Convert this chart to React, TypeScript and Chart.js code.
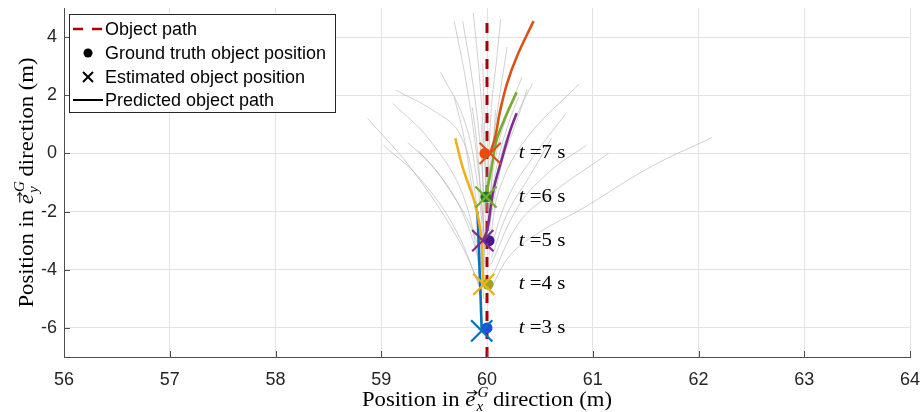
import React, { useEffect, useRef } from 'react';
import { Chart, registerables } from 'chart.js';

Chart.register(...registerables);

const SANS = '"Liberation Sans", Arial, Helvetica, sans-serif';
const SERIF = '"Liberation Serif", "Times New Roman", serif';

// Axes
const xMin = 56;
const xMax = 64;
const yMin = -7;
const yMax = 5;
const xTickValues = [56, 57, 58, 59, 60, 61, 62, 63, 64];
const yTickValues = [-6, -4, -2, 0, 2, 4];

// Object path (true straight-line motion)
const objectPathX = [60, 60];
const objectPathY = [-7, 4.5];

// Time steps, ground truth and estimates
const times = [3, 4, 5, 6, 7];
const truthX = [60.0, 60.01, 60.02, 59.99, 59.98];
const truthY = [-6.0, -4.5, -3.0, -1.5, 0.0];
const estimateX = [59.95, 59.97, 59.96, 59.99, 60.03];
const estimateY = [-6.1, -4.5, -3.0, -1.5, 0.0];
const timeLabelX = 60.3;

// Predicted path from each estimate
const predX3 = [59.95, 59.94, 59.93, 59.92, 59.91];
const predY3 = [-6.1, -5.0, -4.0, -3.0, -2.0];
const predX4 = [59.97, 59.96, 59.95, 59.91, 59.87, 59.77, 59.7];
const predY4 = [-4.5, -4.0, -3.0, -2.07, -1.52, -0.48, 0.52];
const predX5 = [59.96, 60.0, 60.06, 60.14, 60.22, 60.28];
const predY5 = [-3.0, -2.66, -1.28, -0.2, 0.79, 1.38];
const predX6 = [59.99, 60.05, 60.09, 60.18, 60.28];
const predY6 = [-1.5, -0.34, 0.45, 1.3, 2.1];
const predX7 = [60.03, 60.08, 60.12, 60.19, 60.28, 60.44];
const predY7 = [0.0, 0.6, 1.4, 2.41, 3.31, 4.55];
const predictedX = [predX3, predX4, predX5, predX6, predX7];
const predictedY = [predY3, predY4, predY5, predY6, predY7];

// Sampled candidate paths (light grey fan)
const sampleTracks: number[][][] = [
  [[59.94, -4.6], [59.72, -2.9], [59.3, -0.6], [58.87, 1.21]],
  [[59.96, -4.2], [59.88, -1.2], [59.74, 0.69], [59.49, 1.48], [59.14, 2.17]],
  [[59.95, -4.4], [59.78, -1.5], [59.46, 0.45], [59.11, 1.72]],
  [[59.95, -4.8], [59.7, -2.6], [59.35, -0.8], [59.02, 0.28]],
  [[59.96, -4.0], [59.75, -1.9], [59.5, -0.5], [59.25, 0.38]],
  [[59.98, -3.5], [59.9, -0.8], [59.78, 1.2], [59.56, 2.8]],
  [[59.98, -3.0], [59.9, 0.0], [59.8, 2.5], [59.69, 4.55]],
  [[59.99, -2.5], [59.93, 0.5], [59.85, 2.8], [59.77, 4.55]],
  [[60.0, -2.0], [59.96, 1.0], [59.92, 3.0], [59.87, 4.83]],
  [[59.97, -3.8], [59.85, -1.0], [59.78, 0.6], [59.69, 1.93]],
  [[59.98, -3.2], [59.93, -0.8], [59.9, 0.5], [59.86, 1.59]],
  [[60.0, -1.8], [59.98, 0.5], [59.96, 3.1]],
  [[60.0, -1.5], [60.04, 1.5], [60.09, 3.2], [60.13, 4.62]],
  [[60.0, -1.2], [60.08, 1.0], [60.19, 3.66]],
  [[60.0, -2.0], [60.1, 0.2], [60.2, 1.4], [60.33, 2.62]],
  [[60.02, -2.3], [60.14, 0.0], [60.28, 1.3], [60.43, 2.41]],
  [[60.01, -2.0], [60.12, 0.0], [60.22, 1.2], [60.3, 1.95]],
  [[60.02, -2.5], [60.15, -0.2], [60.26, 0.9], [60.38, 2.2]],
  [[60.03, -3.0], [60.12, -1.2], [60.38, 0.55], [60.87, 2.38]],
  [[60.03, -3.3], [60.2, -1.5], [60.42, -0.2], [60.74, 1.34]],
  [[60.04, -3.6], [60.2, -2.0], [60.4, -0.8], [60.61, 0.52]],
  [[60.04, -3.8], [60.3, -1.8], [60.6, -0.6], [60.94, 0.28]],
  [[60.04, -4.3], [60.3, -2.4], [60.6, -1.4], [61.15, 0.0]],
  [[60.03, -4.7], [60.22, -3.5], [60.5, -2.7], [60.9, -1.9], [61.54, -0.48], [62.13, 0.55]],
  [[59.97, -5.0], [59.9, -3.0], [59.6, -1.0], [59.35, 0.1]],
  [[59.98, -4.0], [59.96, -1.0], [59.95, 1.0]],
  [[60.02, -3.5], [60.05, -0.5], [60.08, 1.5]],
];

const objectColor = '#A80000';
const stepColors = ['#0072BD', '#EDB120', '#7E2F8E', '#77AC30', '#D95319'];
const truthColors = ['#1F4FE0', '#9AA51E', '#4B1A8A', '#1E7A1E', '#F04A0A'];
const greyTrack = 'rgba(170,170,170,0.55)';
const axisColor = '#4d4d4d';
const textColor = '#262626';

const toPoints = (xs: number[], ys: number[]) => xs.map((x, i) => ({ x, y: ys[i] }));

function drawAxisTitle(ctx: CanvasRenderingContext2D, cx: number, cy: number, sub: string, rotate: boolean) {
  const fs = 21;
  const fsS = 14;
  const stretch = 1.08;
  ctx.save();
  ctx.translate(cx, cy);
  if (rotate) ctx.rotate(-Math.PI / 2);
  ctx.scale(stretch, 1);
  ctx.font = `${fs}px ${SERIF}`;
  const w1 = ctx.measureText('Position in ').width;
  ctx.font = `italic ${fs}px ${SERIF}`;
  const we = ctx.measureText('e').width;
  ctx.font = `italic ${fsS}px ${SERIF}`;
  const wss = Math.max(ctx.measureText(sub).width, ctx.measureText('G').width) + 1;
  ctx.font = `${fs}px ${SERIF}`;
  const w3 = ctx.measureText(' direction (m)').width;
  const total = w1 + we + wss + w3;
  let x = -total / 2;
  ctx.fillStyle = '#000';
  ctx.strokeStyle = '#000';
  ctx.textAlign = 'left';
  ctx.textBaseline = 'alphabetic';
  ctx.fillText('Position in ', x, 0);
  x += w1;
  ctx.font = `italic ${fs}px ${SERIF}`;
  ctx.fillText('e', x, 0);
  const ay = -fs * 0.63;
  ctx.lineWidth = 1;
  ctx.beginPath();
  ctx.moveTo(x + 1.5, ay);
  ctx.lineTo(x + we + 1.5, ay);
  ctx.moveTo(x + we - 1.5, ay - 2.5);
  ctx.lineTo(x + we + 1.5, ay);
  ctx.lineTo(x + we - 1.5, ay + 2.5);
  ctx.stroke();
  x += we;
  ctx.font = `italic ${fsS}px ${SERIF}`;
  ctx.fillText(sub, x + 1, 5);
  ctx.fillText('G', x + 2, -9);
  x += wss;
  ctx.font = `${fs}px ${SERIF}`;
  ctx.fillText(' direction (m)', x, 0);
  ctx.restore();
}

function drawTimeLabel(ctx: CanvasRenderingContext2D, x: number, y: number, t: number) {
  const fs = 19;
  ctx.save();
  ctx.translate(x, y);
  ctx.scale(1.1, 1);
  ctx.fillStyle = '#000';
  ctx.textAlign = 'left';
  ctx.textBaseline = 'middle';
  ctx.font = `italic ${fs}px ${SERIF}`;
  ctx.fillText('t', 0, 0);
  const wt = ctx.measureText('t').width;
  ctx.font = `${fs}px ${SERIF}`;
  ctx.fillText(` =${t} s`, wt, 0);
  ctx.restore();
}

function drawLegend(ctx: CanvasRenderingContext2D) {
  const L = 69, T = 14, R = 335, B = 112;
  const rows = [29, 53, 77, 100];
  ctx.save();
  ctx.fillStyle = '#fff';
  ctx.fillRect(L, T, R - L, B - T);
  ctx.strokeStyle = textColor;
  ctx.lineWidth = 1;
  ctx.strokeRect(L + 0.5, T + 0.5, R - L, B - T);

  ctx.strokeStyle = objectColor;
  ctx.lineWidth = 2.5;
  ctx.setLineDash([10, 9]);
  ctx.beginPath();
  ctx.moveTo(73, rows[0]);
  ctx.lineTo(103, rows[0]);
  ctx.stroke();
  ctx.setLineDash([]);

  ctx.fillStyle = '#000';
  ctx.beginPath();
  ctx.arc(88, rows[1], 4.5, 0, Math.PI * 2);
  ctx.fill();

  ctx.strokeStyle = '#000';
  ctx.lineWidth = 2;
  ctx.beginPath();
  ctx.moveTo(83, rows[2] - 5);
  ctx.lineTo(93, rows[2] + 5);
  ctx.moveTo(93, rows[2] - 5);
  ctx.lineTo(83, rows[2] + 5);
  ctx.stroke();

  ctx.lineWidth = 2;
  ctx.beginPath();
  ctx.moveTo(73, rows[3]);
  ctx.lineTo(103, rows[3]);
  ctx.stroke();

  ctx.fillStyle = '#000';
  ctx.font = `18px ${SANS}`;
  ctx.textAlign = 'left';
  ctx.textBaseline = 'middle';
  const labels = ['Object path', 'Ground truth object position', 'Estimated object position', 'Predicted object path'];
  labels.forEach((s, i) => ctx.fillText(s, 105, rows[i] + 1));
  ctx.restore();
}

const overlayPlugin = {
  id: 'overlay',
  afterDraw(chart: any) {
    const { ctx, scales } = chart;
    const xs = scales.x;
    const ys = scales.y;
    const left = xs.getPixelForValue(xMin);
    const right = xs.getPixelForValue(xMax);
    const top = ys.getPixelForValue(yMax);
    const bottom = ys.getPixelForValue(yMin);
    ctx.save();
    ctx.strokeStyle = axisColor;
    ctx.lineWidth = 1;
    xTickValues.forEach((v) => {
      const px = Math.round(xs.getPixelForValue(v)) + 0.5;
      ctx.beginPath();
      ctx.moveTo(px, bottom);
      ctx.lineTo(px, bottom - 6);
      ctx.stroke();
    });
    yTickValues.forEach((v) => {
      const py = Math.round(ys.getPixelForValue(v)) + 0.5;
      ctx.beginPath();
      ctx.moveTo(left, py);
      ctx.lineTo(left + 6, py);
      ctx.stroke();
    });
    ctx.restore();

    times.forEach((t, i) => {
      drawTimeLabel(ctx, xs.getPixelForValue(timeLabelX), ys.getPixelForValue(truthY[i]), t);
    });

    drawAxisTitle(ctx, (left + right) / 2, 406, 'x', false);
    drawAxisTitle(ctx, 33, (top + bottom) / 2, 'y', true);
    drawLegend(ctx);
  },
};

export default function App() {
  const canvasRef = useRef<HTMLCanvasElement | null>(null);

  useEffect(() => {
    const canvas = canvasRef.current;
    if (!canvas) return;

    const datasets: any[] = [];

    datasets.push({
      label: 'Object path',
      data: toPoints(objectPathX, objectPathY),
      showLine: true,
      borderColor: objectColor,
      borderWidth: 3,
      borderDash: [10, 8],
      pointRadius: 0,
      order: 20,
    });

    sampleTracks.forEach((track, k) => {
      datasets.push({
        label: `sample ${k}`,
        data: track.map(([x, y]) => ({ x, y })),
        showLine: true,
        borderColor: greyTrack,
        borderWidth: 1,
        tension: 0.4,
        pointRadius: 0,
        order: 15,
      });
    });

    times.forEach((t, i) => {
      datasets.push({
        label: `Predicted t=${t}`,
        data: toPoints(predictedX[i], predictedY[i]),
        showLine: true,
        borderColor: stepColors[i],
        borderWidth: 2.6,
        tension: 0.4,
        pointRadius: 0,
        order: 10 - i,
      });
    });

    times.forEach((t, i) => {
      datasets.push({
        label: `Truth t=${t}`,
        data: [{ x: truthX[i], y: truthY[i] }],
        showLine: false,
        pointStyle: 'circle',
        pointRadius: 5.5,
        backgroundColor: truthColors[i],
        borderColor: truthColors[i],
        borderWidth: 0,
        order: 4,
      });
      datasets.push({
        label: `Estimate t=${t}`,
        data: [{ x: estimateX[i], y: estimateY[i] }],
        showLine: false,
        pointStyle: 'crossRot',
        pointRadius: 15,
        borderColor: stepColors[i],
        borderWidth: 2.2,
        order: 2,
      });
    });

    const chart = new Chart(canvas, {
      type: 'scatter',
      data: { datasets },
      options: {
        animation: false,
        responsive: false,
        maintainAspectRatio: false,
        events: [],
        layout: { autoPadding: false, padding: { top: 8, right: 12, left: 0, bottom: 0 } },
        plugins: { legend: { display: false }, tooltip: { enabled: false } },
        scales: {
          x: {
            type: 'linear',
            min: xMin,
            max: xMax,
            afterBuildTicks: (s: any) => {
              s.ticks = xTickValues.map((v) => ({ value: v }));
            },
            afterFit: (s: any) => {
              s.height = 55;
              s.paddingLeft = 0;
              s.paddingRight = 0;
              s.paddingTop = 0;
              s.paddingBottom = 0;
            },
            grid: { color: '#e3e3e3', lineWidth: 1, drawTicks: false },
            border: { color: axisColor, width: 1 },
            ticks: {
              font: { family: SANS, size: 18 },
              color: textColor,
              padding: 12,
              maxRotation: 0,
              autoSkip: false,
            },
          },
          y: {
            type: 'linear',
            min: yMin,
            max: yMax,
            afterBuildTicks: (s: any) => {
              s.ticks = yTickValues.map((v) => ({ value: v }));
            },
            afterFit: (s: any) => {
              s.width = 64;
              s.paddingLeft = 0;
              s.paddingRight = 0;
              s.paddingTop = 0;
              s.paddingBottom = 0;
            },
            grid: { color: '#e3e3e3', lineWidth: 1, drawTicks: false },
            border: { color: axisColor, width: 1 },
            ticks: {
              font: { family: SANS, size: 18 },
              color: textColor,
              padding: 7,
              autoSkip: false,
            },
          },
        },
      },
      plugins: [overlayPlugin],
    });

    return () => {
      chart.destroy();
    };
  }, []);

  return (
    <div style={{ position: 'fixed', left: 0, top: 0, width: 922, height: 412, background: '#fff' }}>
      <canvas ref={canvasRef} width={922} height={412} style={{ display: 'block' }} />
    </div>
  );
}
